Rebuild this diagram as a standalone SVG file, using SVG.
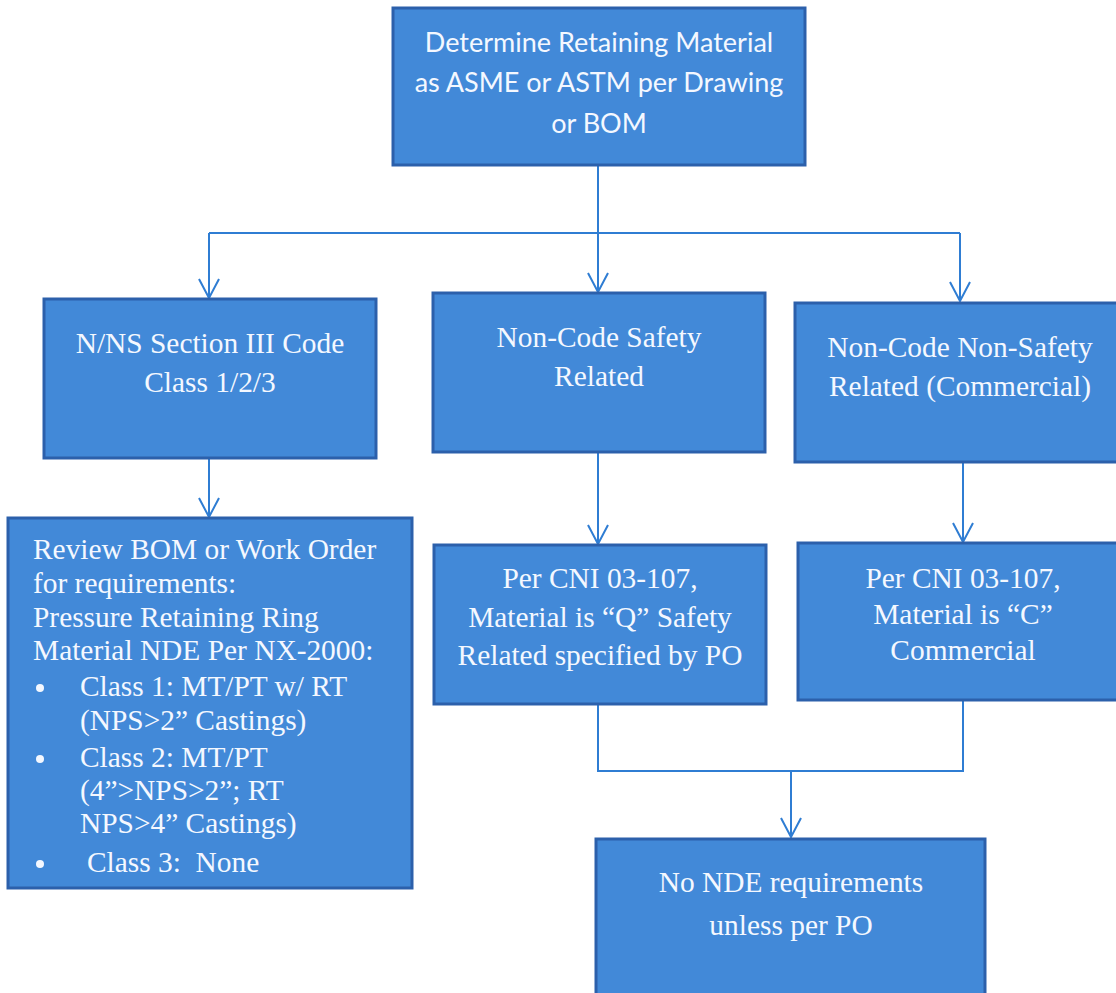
<svg xmlns="http://www.w3.org/2000/svg" width="1116" height="993" viewBox="0 0 1116 993">
<style>
.box{fill:#4289d8;stroke:#2c60ab;stroke-width:3}
.sans{font-family:Lato,"Open Sans",sans-serif;font-size:27px;fill:#f4f8ff;text-anchor:middle}
.serif{font-family:"Liberation Serif","Times New Roman",serif;font-size:29.4px;fill:#f4f8ff;text-anchor:middle}
.left{text-anchor:start}
.conn{fill:none;stroke:#2f7dd3;stroke-width:2}
</style>
<defs>
<marker id="arr" viewBox="0 0 22 22" refX="20" refY="11" markerWidth="22" markerHeight="22" markerUnits="userSpaceOnUse" orient="auto">
<path d="M1,1 L20,11 L1,21" fill="none" stroke="#2f7dd3" stroke-width="2"/>
</marker>
</defs>
<rect width="1116" height="993" fill="#ffffff"/>
<g id="connectors">
<path class="conn" d="M598,166 V233"/>
<path class="conn" d="M209,233 H960"/>
<path class="conn" d="M209,233 V298" marker-end="url(#arr)"/>
<path class="conn" d="M598,233 V292" marker-end="url(#arr)"/>
<path class="conn" d="M960,233 V301" marker-end="url(#arr)"/>
<path class="conn" d="M209,458 V517" marker-end="url(#arr)"/>
<path class="conn" d="M598,452 V544" marker-end="url(#arr)"/>
<path class="conn" d="M963,462 V542" marker-end="url(#arr)"/>
<path class="conn" d="M598,704 V771 H963 V700"/>
<path class="conn" d="M791,771 V837" marker-end="url(#arr)"/>
</g>
<g id="n-top">
<rect class="box" x="393" y="8" width="412" height="157"/>
<text class="sans" x="599" y="52">Determine Retaining Material</text>
<text class="sans" x="599" y="92">as ASME or ASTM per Drawing</text>
<text class="sans" x="599" y="133">or BOM</text>
</g>
<g id="n-code">
<rect class="box" x="44" y="299" width="332" height="159"/>
<text class="serif" x="210" y="353">N/NS Section III Code</text>
<text class="serif" x="210" y="392">Class 1/2/3</text>
</g>
<g id="n-safety">
<rect class="box" x="433" y="293" width="332" height="159"/>
<text class="serif" x="599" y="347">Non-Code Safety</text>
<text class="serif" x="599" y="386">Related</text>
</g>
<g id="n-commercial">
<rect class="box" x="795" y="303" width="323" height="159"/>
<text class="serif" x="960" y="357">Non-Code Non-Safety</text>
<text class="serif" x="960" y="396">Related (Commercial)</text>
</g>
<g id="n-review">
<rect class="box" x="8" y="518" width="404" height="370"/>
<text class="serif left" x="33" y="559">Review BOM or Work Order</text>
<text class="serif left" x="33" y="593">for requirements:</text>
<text class="serif left" x="33" y="627">Pressure Retaining Ring</text>
<text class="serif left" x="33" y="660">Material NDE Per NX-2000:</text>
<circle cx="40" cy="688" r="4" fill="#f4f8ff"/>
<text class="serif left" x="80" y="696">Class 1: MT/PT w/ RT</text>
<text class="serif left" x="80" y="730">(NPS&gt;2” Castings)</text>
<circle cx="40" cy="759" r="4" fill="#f4f8ff"/>
<text class="serif left" x="80" y="767">Class 2: MT/PT</text>
<text class="serif left" x="80" y="800">(4”&gt;NPS&gt;2”; RT</text>
<text class="serif left" x="80" y="833">NPS&gt;4” Castings)</text>
<circle cx="40" cy="864" r="4" fill="#f4f8ff"/>
<text class="serif left" x="87" y="872" xml:space="preserve">Class 3:  None</text>
</g>
<g id="n-q">
<rect class="box" x="434" y="545" width="332" height="159"/>
<text class="serif" x="600" y="588">Per CNI 03-107,</text>
<text class="serif" x="600" y="627">Material is “Q” Safety</text>
<text class="serif" x="600" y="665">Related specified by PO</text>
</g>
<g id="n-c">
<rect class="box" x="798" y="543" width="320" height="157"/>
<text class="serif" x="963" y="588">Per CNI 03-107,</text>
<text class="serif" x="963" y="624">Material is “C”</text>
<text class="serif" x="963" y="660">Commercial</text>
</g>
<g id="n-none">
<rect class="box" x="596" y="839" width="389" height="160"/>
<text class="serif" x="791" y="892">No NDE requirements</text>
<text class="serif" x="791" y="935">unless per PO</text>
</g>
</svg>
